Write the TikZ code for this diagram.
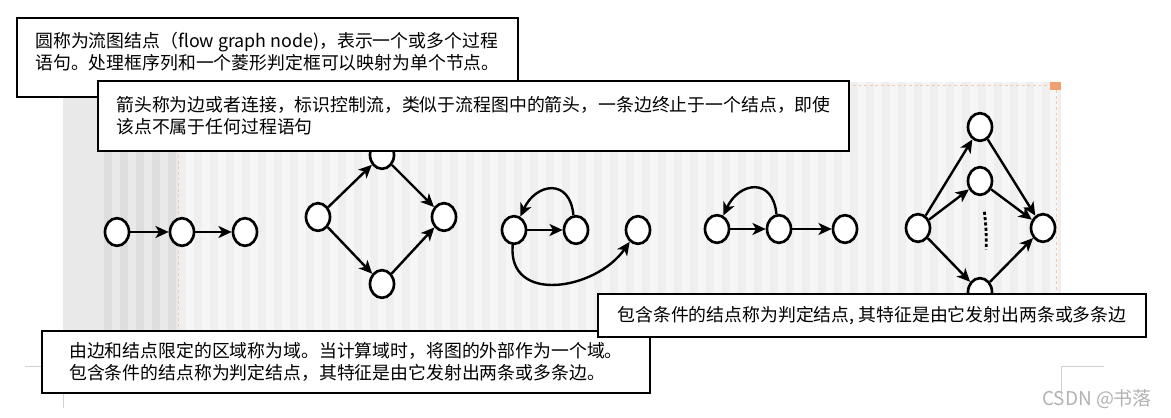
\documentclass[tikz,border=0pt]{standalone}
\usepackage{fontspec}
\setmainfont{Noto Sans CJK SC}
\usetikzlibrary{arrows.meta, shapes.geometric}
\definecolor{panel}{HTML}{E9E9E9}
\definecolor{panelstripe}{HTML}{DEDEDE}
\definecolor{slide}{HTML}{EFEFEF}
\definecolor{slidestripe}{HTML}{F6F6F6}
\definecolor{guideorange}{RGB}{240,160,110}

\begin{document}
\begin{tikzpicture}[
    x=0.025cm, y=-0.025cm,
    vert/.style={draw, ellipse, line width=1.9pt, fill=white, minimum width=0.6cm, minimum height=0.69cm, inner sep=0pt},
    arrow/.style={-{Stealth[length=0.33cm, width=0.3cm, inset=0.09cm]}, line width=1.7pt},
    elide/.style={line width=2pt, dash pattern=on 2.2pt off 1.6pt, shorten <=0.4cm, shorten >=0.7cm},
    note/.style={draw, rectangle, line width=1.7pt, fill=white, align=left, inner sep=0pt, outer sep=0pt, font=\fontsize{12.7}{15.6}\selectfont},
    guide/.style={draw=guideorange!60, line width=0.5pt, dash pattern=on 2pt off 2pt}
]
\useasboundingbox (0,0) rectangle (1171,418);

% Slide background
\fill[panel] (63,82) rectangle (178,330);
\foreach \x in {104,120,...,168} \fill[panelstripe] (\x,82) rectangle ++(8,248);
\fill[slide] (178,82) rectangle (1061,330);
\foreach \x in {186,202,...,1050} \fill[slidestripe] (\x,82) rectangle ++(8,248);
\draw[guide] (178,82) -- (178,330);
\draw[guide] (178,85) -- (1056,85) -- (1056,330);
\fill[guideorange] (1050,82) rectangle (1061,90);

% Page marks
\draw[gray!35, line width=0.5pt] (25,366) -- (63,366) -- (63,408);
\draw[gray!35, line width=0.5pt] (1104,366) -- (1061,366) -- (1061,397);

% Nodes
\node[vert] (s1) at (117,232) {};
\node[vert] (s2) at (182,232) {};
\node[vert] (s3) at (245,232) {};

\node[vert] (if1) at (318,217) {};
\node[vert] (if2) at (382,155) {};
\node[vert] (if3) at (444,217) {};
\node[vert] (if4) at (382,284) {};

\node[vert] (wh1) at (514,230) {};
\node[vert] (wh2) at (576,230) {};
\node[vert] (wh3) at (638,230) {};

\node[vert] (un1) at (717,229) {};
\node[vert] (un2) at (779,229) {};
\node[vert] (un3) at (845,229) {};

\node[vert] (cs1) at (918,228) {};
\node[vert] (cs2) at (980,127) {};
\node[vert] (cs3) at (980,181) {};
\node[vert] (cs4) at (980,292) {};
\node[vert] (cs5) at (1043,228) {};

% Edges
\draw[arrow] (s1) -- (s2);
\draw[arrow] (s2) -- (s3);

\draw[arrow] (if1) -- (if2);
\draw[arrow] (if1) -- (if4);
\draw[arrow] (if2) -- (if3);
\draw[arrow] (if4) -- (if3);

\draw[arrow] (wh1) -- (wh2);
\draw[arrow] (wh2.100) to[out=95, in=65, looseness=1.8] (wh1.65);
\draw[arrow] (wh1.-95) to[out=-95, in=-125, looseness=1.3] (wh3.-125);

\draw[arrow] (un1) -- (un2);
\draw[arrow] (un2) -- (un3);
\draw[arrow] (un2.100) to[out=95, in=65, looseness=1.8] (un1.65);

\draw[arrow] (cs1) -- (cs2);
\draw[arrow] (cs1) -- (cs3);
\draw[arrow] (cs1) -- (cs4);
\draw[arrow] (cs2) -- (cs5);
\draw[arrow] (cs3) -- (cs5);
\draw[arrow] (cs4) -- (cs5);
\draw[elide] (cs3) to[bend left=8] (cs4);

% Notes
\node[note, minimum width=12.525cm, minimum height=1.975cm] (nodedef) at (267.5,57.5)
    {圆称为流图结点（flow graph node)，表示一个或多个过程\\语句。处理框序列和一个菱形判定框可以映射为单个节点。\\[-6pt]\mbox{}};
\node[note, minimum width=18.775cm, minimum height=1.75cm] (edgedef) at (473.5,116)
    {箭头称为边或者连接，标识控制流，类似于流程图中的箭头，一条边终止于一个结点，即使\\该点不属于任何过程语句};
\node[note, minimum width=15.2cm, minimum height=1.55cm] (regiondef) at (346,362)
    {由边和结点限定的区域称为域。当计算域时，将图的外部作为一个域。\\包含条件的结点称为判定结点，其特征是由它发射出两条或多条边。};
\node[note, minimum width=13.7cm, minimum height=1.075cm] (predef) at (872,315.5)
    {包含条件的结点称为判定结点, 其特征是由它发射出两条或多条边};

\node[font=\fontsize{13.5}{13.5}\selectfont, text=gray!60] (mark) at (1097,399) {CSDN @书落};

\end{tikzpicture}
\end{document}
